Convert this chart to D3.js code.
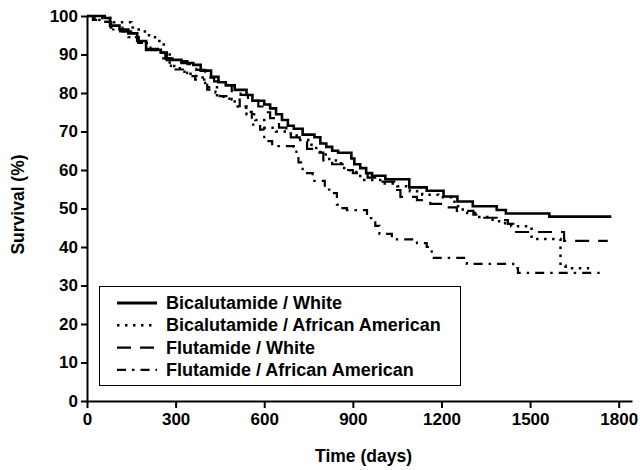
<!DOCTYPE html>
<html>
<head>
<meta charset="utf-8">
<script src="https://cdn.jsdelivr.net/npm/d3@7"></script>
<style>
  body { margin: 0; background: #fff; }
  text { font-family: "Liberation Sans", Arial, sans-serif; font-weight: bold; fill: #000; }
</style>
</head>
<body>
<div id="wrapper"></div>
<script>
// Kaplan-Meier curves (day where step starts, survival %)
const bicWhiteDays = [0,60,78,110,140,170,200,250,270,320,360,385,420,445,470,500,540,560,600,620,640,660,680,700,730,770,790,810,830,850,895,905,925,945,965,1010,1091,1150,1207,1254,1306,1387,1418,1565,1775];
const bicWhiteSurv = [100,99.5,97.5,96.5,95.5,93.5,91.2,90.5,88.6,87.8,87.3,85.8,84.2,82.8,82,80.8,79.5,78,77,76,74.5,73,71.5,70.7,69.2,68.5,66.9,66,65,64.5,63,61.5,60.5,59.2,58.5,57.6,55.5,54.6,53.1,51.8,50.6,49.6,48.7,47.9,47.9];

const bicAADays = [0,15,90,150,175,210,245,260,280,300,330,370,400,440,470,500,540,570,600,640,680,710,760,790,820,860,890,925,1000,1050,1093,1135,1189,1244,1272,1320,1368,1395,1436,1505,1603,1620,1700];
const bicAASurv = [100,99.5,98.4,97,96,94.5,93,90,87,86.4,85,84,81.5,79,78.5,76.5,74.5,73,71,70,69.5,67.8,65.7,64,62.5,60.5,59.5,57.4,56.5,55.8,54.5,53.6,52.9,50.6,48.8,47.8,47.1,46.2,45.4,42.1,35.2,34.5,34.5];

const fluWhiteDays = [0,20,50,80,120,150,175,200,240,265,300,340,370,400,430,460,490,520,545,580,600,620,650,675,690,720,745,780,800,830,870,900,950,990,1040,1061,1117,1162,1206,1252,1308,1341,1387,1425,1443,1615,1763];
const fluWhiteSurv = [100,99,98.5,97,96,94.5,93,91.5,90.5,89,88.3,87.5,86,84,83,82,80.5,79.5,78,76.5,75,73.5,71,69.5,68.5,67.5,65.5,64.5,62.5,61.5,60,59.2,58,57,54.8,53,52.2,51.2,50.3,49.4,48.4,47.6,47,46,43.9,41.6,41.6];

const fluAADays = [0,25,55,80,112,140,174,215,250,284,325,339,366,407,435,449,490,517,545,558,586,600,627,700,709,716,730,764,805,820,846,860,880,948,976,990,1032,1117,1150,1167,1286,1443,1459,1736];
const fluAASurv = [100,99,98.5,96.5,96,94.5,93,91.3,89,86.1,85.3,84.4,83.5,80.9,80,79.2,78.3,76.1,75.1,71.8,70.5,67.5,66.2,66,64,62,59.2,57.2,54.9,54,51,50.1,49.6,47.5,45.5,43.4,42,41,40,37.2,35.6,34.5,33.3,33.3];

const seriesNames = ["Bicalutamide / White", "Bicalutamide / African American", "Flutamide / White", "Flutamide / African American"];
const xTicks = [0, 300, 600, 900, 1200, 1500, 1800];
const yTicks = [0, 10, 20, 30, 40, 50, 60, 70, 80, 90, 100];

const series = [
    { name: seriesNames[0], days: bicWhiteDays, surv: bicWhiteSurv, width: 2.6, dash: null },
    { name: seriesNames[1], days: bicAADays, surv: bicAASurv, width: 2.5, dash: "2.5,5.5" },
    { name: seriesNames[2], days: fluWhiteDays, surv: fluWhiteSurv, width: 2.2, dash: "14,9" },
    { name: seriesNames[3], days: fluAADays, surv: fluAASurv, width: 2.2, dash: "9,6,2.5,6" }
];

const dimension = {
    width: 640,
    height: 470,
    margin: { top: 16, left: 87, bottom: 69, right: 8 }
};
dimension.boundedWidth = dimension.width - dimension.margin.left - dimension.margin.right;
dimension.boundedHeight = dimension.height - dimension.margin.top - dimension.margin.bottom;

const svg = d3.select("#wrapper").append("svg")
    .attr("width", dimension.width)
    .attr("height", dimension.height);

const xScaler = d3.scaleLinear()
    .domain([0, 1845])
    .range([dimension.margin.left, dimension.margin.left + dimension.boundedWidth]);
const yScaler = d3.scaleLinear()
    .domain([0, 100])
    .range([dimension.margin.top + dimension.boundedHeight, dimension.margin.top]);

// axes
const xAxis = svg.append("g")
    .attr("transform", `translate(0,${yScaler(0)})`)
    .call(d3.axisBottom(xScaler).tickValues(xTicks).tickFormat(d3.format("d"))
        .tickSize(7).tickSizeOuter(0).tickPadding(5));
const yAxis = svg.append("g")
    .attr("transform", `translate(${xScaler(0)},0)`)
    .call(d3.axisLeft(yScaler).tickValues(yTicks).tickFormat(d3.format("d"))
        .tickSize(6).tickSizeOuter(0).tickPadding(3));

[xAxis, yAxis].forEach(ax => {
    ax.select(".domain").attr("stroke", "#000").attr("stroke-width", 2);
    ax.selectAll(".tick line").attr("stroke", "#000").attr("stroke-width", 2);
    ax.selectAll(".tick text")
        .style("font-family", "'Liberation Sans', Arial, sans-serif")
        .style("font-weight", "bold")
        .style("font-size", "17px")
        .attr("fill", "#000");
});

// curves
const line = d3.line()
    .x(d => xScaler(d[0]))
    .y(d => yScaler(d[1]))
    .curve(d3.curveStepAfter);

series.forEach(s => {
    const pts = s.days.map((d, i) => [d, s.surv[i]]);
    svg.append("path")
        .attr("d", line(pts))
        .attr("fill", "none")
        .attr("stroke", "#000")
        .attr("stroke-width", s.width)
        .attr("stroke-dasharray", s.dash);
});

// axis titles
svg.append("text")
    .attr("x", (xScaler(0) + xScaler(1845)) / 2 + 4)
    .attr("y", 462)
    .attr("text-anchor", "middle")
    .style("font-size", "17.5px")
    .text("Time (days)");

svg.append("text")
    .attr("transform", `translate(24,${yScaler(50) - 4}) rotate(-90)`)
    .attr("text-anchor", "middle")
    .style("font-size", "17.5px")
    .text("Survival (%)");

// legend
const legend = svg.append("g");
legend.append("rect")
    .attr("x", 99.5).attr("y", 286.5)
    .attr("width", 361).attr("height", 99)
    .attr("fill", "#fff").attr("stroke", "#000").attr("stroke-width", 1);

series.forEach((s, i) => {
    const cy = 303 + i * 22.3;
    legend.append("line")
        .attr("x1", 117).attr("x2", 157)
        .attr("y1", cy).attr("y2", cy)
        .attr("stroke", "#000")
        .attr("stroke-width", i === 0 ? 3 : 2.4)
        .attr("stroke-dasharray", s.dash);
    legend.append("text")
        .attr("x", 166)
        .attr("y", cy + 6)
        .style("font-size", "18px")
        .text(s.name);
});
</script>
</body>
</html>
